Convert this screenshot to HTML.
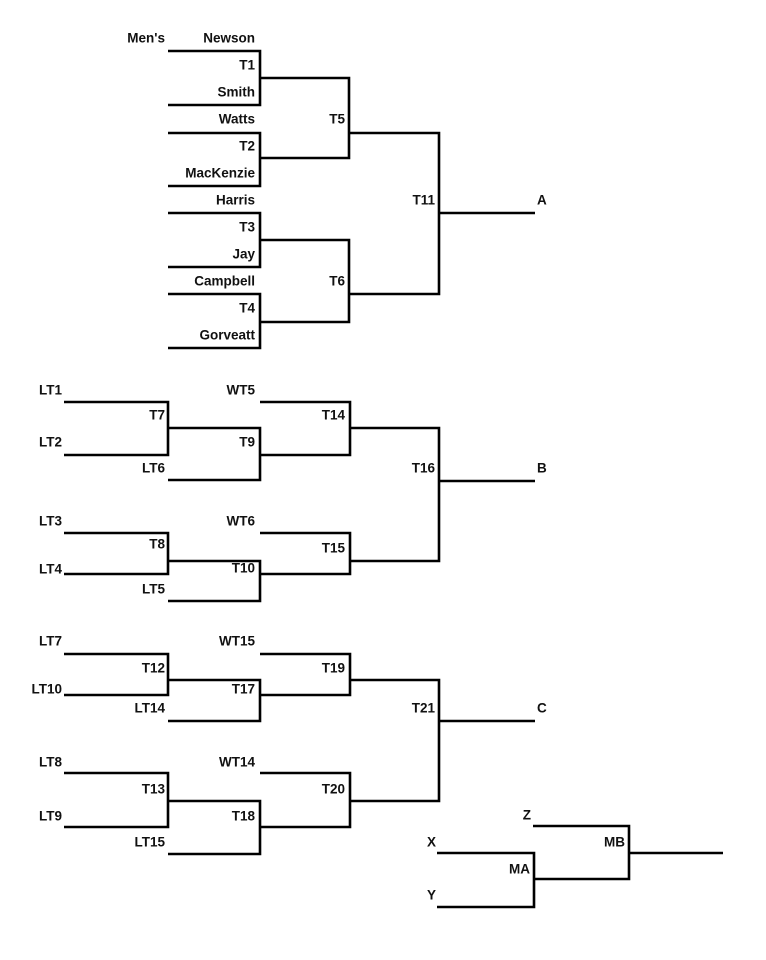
<!DOCTYPE html>
<html><head><meta charset="utf-8"><style>
html,body{margin:0;padding:0;background:#fff;}
svg{display:block;}
text{font-family:"Liberation Sans",sans-serif;font-weight:bold;font-size:13.5px;fill:#111;dominant-baseline:central;text-anchor:end;}
path{stroke:#000;stroke-width:2.6;fill:none;}
</style></head><body>
<svg width="766" height="960" viewBox="0 0 766 960" xmlns="http://www.w3.org/2000/svg">
<!-- Section 1 -->
<path d="M168 51H260V105H168"/>
<path d="M168 133H260V186H168"/>
<path d="M168 213H260V267H168"/>
<path d="M168 294H260V348H168"/>
<path d="M260 78H349V158H260"/>
<path d="M260 240H349V322H260"/>
<path d="M349 133H439V294H349"/>
<path d="M439 213H535"/>
<!-- Section 2 -->
<path d="M64 402H168V455H64"/>
<path d="M168 428H260V480H168"/>
<path d="M260 402H350V455H260"/>
<path d="M350 428H439V561H350"/>
<path d="M439 481H535"/>
<path d="M64 533H168V574H64"/>
<path d="M168 561H260V601H168"/>
<path d="M260 533H350V574H260"/>
<!-- Section 3 -->
<path d="M64 654H168V695H64"/>
<path d="M168 680H260V721H168"/>
<path d="M260 654H350V695H260"/>
<path d="M350 680H439V801H350"/>
<path d="M439 721H535"/>
<path d="M64 773H168V827H64"/>
<path d="M168 801H260V854H168"/>
<path d="M260 773H350V827H260"/>
<!-- Bottom right -->
<path d="M437 853H534V907H437"/>
<path d="M534 879H629V826H533"/>
<path d="M629 853H723"/>

<text x="165" y="38">Men's</text>
<text x="255" y="38">Newson</text>
<text x="255" y="65">T1</text>
<text x="255" y="92">Smith</text>
<text x="255" y="119">Watts</text>
<text x="255" y="146">T2</text>
<text x="255" y="173">MacKenzie</text>
<text x="255" y="200">Harris</text>
<text x="255" y="227">T3</text>
<text x="255" y="254">Jay</text>
<text x="255" y="281">Campbell</text>
<text x="255" y="308">T4</text>
<text x="255" y="335">Gorveatt</text>
<text x="345" y="119">T5</text>
<text x="345" y="281">T6</text>
<text x="435" y="200">T11</text>
<text x="537" y="200" style="text-anchor:start">A</text>

<text x="62" y="390">LT1</text>
<text x="62" y="442">LT2</text>
<text x="165" y="415">T7</text>
<text x="165" y="468">LT6</text>
<text x="255" y="390">WT5</text>
<text x="255" y="442">T9</text>
<text x="345" y="415">T14</text>
<text x="62" y="521">LT3</text>
<text x="62" y="569">LT4</text>
<text x="165" y="544">T8</text>
<text x="165" y="589">LT5</text>
<text x="255" y="521">WT6</text>
<text x="255" y="568">T10</text>
<text x="345" y="548">T15</text>
<text x="435" y="468">T16</text>
<text x="537" y="468" style="text-anchor:start">B</text>

<text x="62" y="641">LT7</text>
<text x="62" y="689">LT10</text>
<text x="165" y="668">T12</text>
<text x="165" y="708">LT14</text>
<text x="255" y="641">WT15</text>
<text x="255" y="689">T17</text>
<text x="345" y="668">T19</text>
<text x="62" y="762">LT8</text>
<text x="62" y="816">LT9</text>
<text x="165" y="789">T13</text>
<text x="165" y="842">LT15</text>
<text x="255" y="762">WT14</text>
<text x="255" y="816">T18</text>
<text x="345" y="789">T20</text>
<text x="435" y="708">T21</text>
<text x="537" y="708" style="text-anchor:start">C</text>

<text x="531" y="815">Z</text>
<text x="436" y="842">X</text>
<text x="436" y="895">Y</text>
<text x="530" y="869">MA</text>
<text x="625" y="842">MB</text>
</svg>
</body></html>
